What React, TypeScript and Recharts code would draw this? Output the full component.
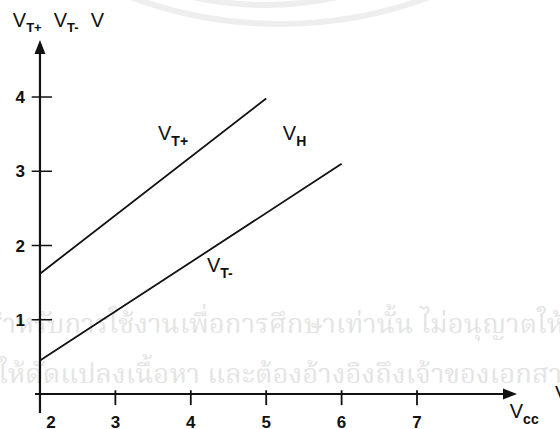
import React from 'react';
import { LineChart, Line, XAxis, YAxis, ReferenceLine, ReferenceDot } from 'recharts';

// supply voltage ticks and threshold voltage ticks
const vccTicks = [2, 3, 4, 5, 6, 7];
const voltTicks = [1, 2, 3, 4];

// upper and lower trigger thresholds against Vcc
const vtPlus = [
  { vcc: 2, v: 1.62 },
  { vcc: 5, v: 3.98 },
];
const vtMinus = [
  { vcc: 2, v: 0.45 },
  { vcc: 6, v: 3.1 },
];

const watermarkLines = [
  'สำหรับการใช้งานเพื่อการศึกษาเท่านั้น ไม่อนุญาตให้',
  'ให้ดัดแปลงเนื้อหา และต้องอ้างอิงถึงเจ้าของเอกสาร',
];

const FONT = '"Liberation Sans", Arial, Helvetica, sans-serif';
const INK = '#111';

const XAxisArrow = (props: any) => {
  const { x1, x2, y1 } = props;
  const left = Math.min(x1, x2);
  const tip = Math.max(x1, x2);
  return (
    <g>
      <line x1={left} y1={y1} x2={tip - 8} y2={y1} stroke={INK} strokeWidth={2.2} />
      <polygon points={`${tip},${y1} ${tip - 14},${y1 - 5.5} ${tip - 14},${y1 + 5.5}`} fill={INK} />
    </g>
  );
};

const YAxisArrow = (props: any) => {
  const { x1, y1, y2 } = props;
  const tip = Math.min(y1, y2);
  const bottom = Math.max(y1, y2);
  return (
    <g>
      <line x1={x1} y1={bottom} x2={x1} y2={tip + 8} stroke={INK} strokeWidth={2.2} />
      <polygon points={`${x1},${tip} ${x1 - 5.5},${tip + 14} ${x1 + 5.5},${tip + 14}`} fill={INK} />
    </g>
  );
};

const VccTick = ({ x, y, payload }: any) => (
  <text
    x={x + (payload.value === 2 ? 11 : 0)}
    y={y}
    dy="0.71em"
    textAnchor="middle"
    fontFamily={FONT}
    fontSize={17}
    fontWeight="bold"
    fill={INK}
  >
    {payload.value}
  </text>
);

const SubText = (main: string, sub: string) => (props: any) => (
  <text x={props.cx} y={props.cy} fontFamily={FONT} fontSize={20} fill={INK}>
    {main}
    <tspan dy={6} fontSize={14} fontWeight="bold">
      {sub}
    </tspan>
  </text>
);

const AxisTitle = (props: any) => (
  <text x={props.cx} y={props.cy} fontFamily={FONT} fontSize={20} fill={INK}>
    V
    <tspan dy={5} fontSize={13} fontWeight="bold">T+</tspan>
    <tspan dy={-5} dx={12}>V</tspan>
    <tspan dy={5} fontSize={13} fontWeight="bold">T-</tspan>
    <tspan dy={-5} dx={12}>V</tspan>
  </text>
);

export default function App() {
  return (
    <div
      style={{
        position: 'absolute',
        left: 0,
        top: 0,
        width: 560,
        height: 429,
        background: '#fff',
        overflow: 'hidden',
      }}
    >
      {/* faint seal arcs and notice text behind the chart */}
      <div
        style={{
          position: 'absolute',
          left: 280 - 432,
          top: 27 - 864,
          width: 864,
          height: 864,
          borderRadius: '50%',
          border: '6px solid #eeeeee',
          boxSizing: 'border-box',
        }}
      />
      <div
        style={{
          position: 'absolute',
          left: 265 - 330,
          top: 8 - 660,
          width: 660,
          height: 660,
          borderRadius: '50%',
          border: '6px solid #eeeeee',
          boxSizing: 'border-box',
        }}
      />
      {watermarkLines.map((t, i) => (
        <div
          key={i}
          style={{
            position: 'absolute',
            left: i === 0 ? -14 : -2,
            top: i === 0 ? 309 : 359,
            whiteSpace: 'nowrap',
            fontFamily: '"Noto Serif Thai", "Noto Sans Thai", Loma, Garuda, "Tlwg Typo", serif',
            fontSize: 27.5,
            lineHeight: '34px',
            color: '#e4e4e4',
          }}
        >
          {t}
        </div>
      ))}
      <div style={{ position: 'absolute', left: 0, top: 0 }}>
        <LineChart width={560} height={429} margin={{ top: 40, right: 43, bottom: 0, left: 0 }}>
          <XAxis
            type="number"
            dataKey="vcc"
            domain={[1.934, 8.326]}
            ticks={vccTicks}
            allowDataOverflow
            axisLine={false}
            tickLine={false}
            tickSize={0}
            tickMargin={3}
            height={16}
            tick={<VccTick />}
            interval={0}
          />
          <YAxis
            type="number"
            dataKey="v"
            domain={[-0.256, 4.768]}
            ticks={voltTicks}
            allowDataOverflow
            axisLine={false}
            tickLine={false}
            tickSize={0}
            tickMargin={10}
            width={35}
            interval={0}
            tick={{ fontFamily: FONT, fontSize: 17, fontWeight: 'bold', fill: INK }}
          />

          <ReferenceLine y={0} shape={XAxisArrow} ifOverflow="visible" />
          <ReferenceLine x={2} shape={YAxisArrow} ifOverflow="visible" />

          {vccTicks.slice(1).map((t) => (
            <ReferenceLine
              key={`xt-${t}`}
              segment={[
                { x: t, y: 0.05 },
                { x: t, y: -0.15 },
              ]}
              stroke={INK}
              strokeWidth={1.8}
              ifOverflow="visible"
            />
          ))}
          {voltTicks.map((t) => (
            <ReferenceLine
              key={`yt-${t}`}
              segment={[
                { x: 1.89, y: t },
                { x: 2.16, y: t },
              ]}
              stroke={INK}
              strokeWidth={1.5}
              ifOverflow="visible"
            />
          ))}

          <Line
            data={vtPlus}
            dataKey="v"
            stroke={INK}
            strokeWidth={1.8}
            dot={false}
            isAnimationActive={false}
          />
          <Line
            data={vtMinus}
            dataKey="v"
            stroke={INK}
            strokeWidth={1.8}
            dot={false}
            isAnimationActive={false}
          />

          <ReferenceDot x={3.565} y={3.42} ifOverflow="visible" shape={SubText('V', 'T+')} />
          <ReferenceDot x={5.22} y={3.42} ifOverflow="visible" shape={SubText('V', 'H')} />
          <ReferenceDot x={4.215} y={1.64} ifOverflow="visible" shape={SubText('V', 'T-')} />
          <ReferenceDot x={8.23} y={-0.32} ifOverflow="visible" shape={SubText('V', 'cc')} />
          <ReferenceDot x={8.83} y={-0.08} ifOverflow="visible" shape={SubText('V', '')} />
          <ReferenceDot x={1.64} y={4.94} ifOverflow="visible" shape={AxisTitle} />
        </LineChart>
      </div>
    </div>
  );
}
